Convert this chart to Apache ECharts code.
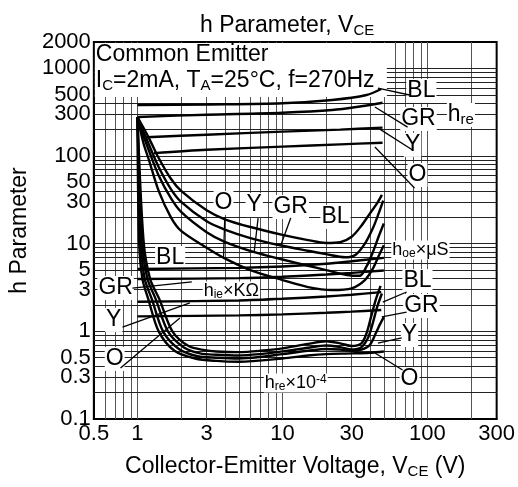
<!DOCTYPE html>
<html><head><meta charset="utf-8">
<script src="https://cdn.jsdelivr.net/npm/echarts@6/dist/echarts.min.js"></script>
<style>html,body{margin:0;padding:0;background:#fff}#c{width:518px;height:487px}</style>
</head><body><div id="c"></div>
<script>
const FONT = '"Liberation Sans", Arial, Helvetica, sans-serif';

// ---- axis tick labels & grid lines ----
const xTickValues = [0.5, 1, 3, 10, 30, 100, 300];
const yTickValues = [0.1, 0.3, 0.5, 1, 3, 5, 10, 30, 50, 100, 300, 500, 1000, 2000];
const xGridValues = [0.6,0.7,0.8,0.9,1,2,3,4,5,6,7,8,9,10,20,30,40,50,60,70,80,90,100,200];
const yGridValues = [0.2,0.3,0.4,0.5,0.6,0.7,0.8,0.9,1,2,3,4,5,6,7,8,9,10,20,30,40,50,60,70,80,90,100,200,300,400,500,600,700,800,900,1000];

// ---- h_fe (V_CE, value) ----
const hfeBL = [[1,382],[3,388],[10,400],[22,436],[38,497],[48,582]];
const hfeGR = [[1,279],[3,296],[10,312],[22,335],[35,370],[49,406]];
const hfeY  = [[1.15,164],[3,175],[10,190],[25,200],[49,211]];
const hfeO  = [[1.3,108],[3,118],[10,128],[25,136],[49,142]];

// ---- h_oe (uS) ----
const hoeBL = [[1,279],[1.1,210],[1.2,160],[1.4,95],[1.7,55],[2,40],[3,24],[4,19],[6,15.5],[10,12.6],[15,11],[20,10.2],[25,10.4],[30,12],[35,16],[40,22],[45,29],[48.5,36]];
const hoeGR = [[1,279],[1.1,190],[1.2,135],[1.4,75],[1.7,42],[2,30],[3,18],[4,14.5],[6,11.6],[9.6,9.6],[15,8.3],[20,7.6],[27,7.0],[32,7.5],[37,10],[42,15],[46,22],[49.5,31]];
const hoeY  = [[1,279],[1.1,170],[1.2,115],[1.4,60],[1.7,33],[2,23],[3,13.5],[4,10.5],[6.4,8.0],[10,6.6],[15,5.6],[20,5.0],[28,4.4],[34,4.3],[38,5.5],[42,8],[46,12],[50,17]];
const hoeO  = [[1,279],[1.1,140],[1.2,90],[1.4,40],[1.7,20],[2,14],[3,9],[4,6.8],[6,5.0],[10,3.85],[15,3.2],[22,2.96],[30,3.1],[37,3.85],[42,5.2],[46,7.2],[50,9.6]];

// ---- h_ie (kOhm) ----
const hieBL = [[1,5.15],[5,5.3],[10,5.5],[20,5.9],[30,6.3],[50,6.9]];
const hieGR = [[1,3.95],[5,4.05],[10,4.2],[20,4.45],[30,4.65],[50,4.95]];
const hieY  = [[1,2.18],[5,2.25],[10,2.35],[20,2.5],[30,2.62],[48,2.8]];
const hieO  = [[1,1.48],[5,1.52],[10,1.56],[20,1.63],[30,1.68],[48,1.75]];

// ---- h_re (x1e-4) ----
const hreBL = [[1,279],[1.1,11],[1.22,4],[1.42,2.3],[1.74,1.0],[2.25,0.68],[2.9,0.61],[3.5,0.59],[5,0.58],[7,0.6],[10,0.64],[15,0.72],[20,0.77],[25,0.73],[30,0.68],[35,0.73],[38,0.95],[41,1.5],[44,2.3],[47.5,3.3]];
const hreGR = [[1,279],[1.075,11],[1.17,4],[1.34,2.3],[1.62,1.0],[2.08,0.66],[2.7,0.56],[3.5,0.54],[5,0.53],[7,0.55],[10,0.59],[15,0.65],[20,0.69],[25,0.66],[30,0.62],[35,0.66],[39,0.85],[42,1.25],[45,1.9],[48.5,2.7]];
const hreY  = [[1,279],[1.05,11],[1.12,4],[1.26,2.3],[1.5,1.0],[1.93,0.63],[2.6,0.52],[3.5,0.5],[5,0.49],[7,0.51],[10,0.55],[15,0.6],[20,0.63],[25,0.62],[30,0.6],[35,0.62],[40,0.7],[44,0.95],[47,1.2],[50,1.45]];
const hreO  = [[1,279],[1.025,11],[1.08,4],[1.19,2.3],[1.4,1.0],[1.8,0.6],[2.5,0.49],[3.5,0.46],[5,0.45],[10,0.49],[15,0.53],[20,0.55],[30,0.56],[40,0.57],[50,0.59]];

// ---- annotation labels (text, x, y in data units) ----
const labelTexts = [
  '{m|BL}','{m|GR}','{m|Y}','{m|O}','{m|h}{s|re}',
  '{m|O}','{m|Y}','{m|GR}','{m|BL}','{a|h}{b|oe}{a|×μS}',
  '{m|BL}','{m|GR}','{m|Y}','{m|O}','{a|h}{b|ie}{a|×KΩ}',
  '{m|BL}','{m|GR}','{m|Y}','{m|O}','{a|h}{b|re}{a|×10}{p|-4}'
];
const labelAnchors = [
  [90.8,552],[86.7,265],[78.9,134],[85.3,60.8],[170,294],
  [3.92,29.1],[6.38,27.6],[11.4,26.2],[23.2,20.2],[89.4,8.47],
  [1.68,6.87],[0.707,3.12],[0.685,1.35],[0.696,0.484],[4.44,2.89],
  [85.3,3.75],[90.8,1.95],[75.2,0.909],[75.2,0.286],[12.35,0.257]
];
// leader lines from labels to curves
const leaderLines = [
  [[45.5,597],[75.2,497]], [[43.4,363],[72.9,214]], [[46.9,203],[78.9,117]], [[43.4,127],[81.4,43.2]],
  [[4.0,20.2],[3.92,6.87]], [[6.79,19.6],[6.38,8.04]], [[11.4,19.6],[9.75,9.66]],
  [[0.923,3.12],[2.37,3.66]], [[0.789,1.12],[2.30,2.11]], [[0.764,0.382],[1.96,1.42]],
  [[49.2,2.16],[71.8,2.81]], [[48.4,1.46],[71.8,1.66]], [[45.5,0.736],[66.4,0.84]], [[43.4,0.566],[67.4,0.362]]
];

const chart = echarts.init(document.getElementById('c'));

function curve(data) {
  return { type:'line', data, smooth:0.3, showSymbol:false, symbol:'none', silent:true,
    lineStyle:{ color:'#000', width:2.4 }, z:5 };
}
const curves = [hfeBL,hfeGR,hfeY,hfeO, hoeBL,hoeGR,hoeY,hoeO, hieBL,hieGR,hieY,hieO, hreBL,hreGR,hreY,hreO].map(curve);

const base = { fontFamily:FONT, color:'#000', fontWeight:'normal' };
const richMain = {
  m:{ ...base, fontSize:23, lineHeight:24 },
  s:{ ...base, fontSize:15, lineHeight:12, verticalAlign:'bottom' },
  a:{ ...base, fontSize:18, lineHeight:19 },
  b:{ ...base, fontSize:12, lineHeight:9, verticalAlign:'bottom' },
  p:{ ...base, fontSize:12, lineHeight:9, verticalAlign:'top' }
};

const option = {
  animation:false,
  backgroundColor:'#fff',
  title:{
    text:'{m|h Parameter, V}{s|CE}', left:195, top:9,
    textStyle:{ fontWeight:'normal', rich:richMain }
  },
  grid:{ left:91, right:20, top:42, bottom:68, show:true, borderColor:'#000', borderWidth:2, backgroundColor:'transparent' },
  xAxis:{
    type:'log', logBase:10, min:0.5, max:300,
    name:'{m|Collector-Emitter Voltage, V}{s|CE}{m| (V)}', nameLocation:'middle', nameGap:36,
    nameTextStyle:{ rich:richMain },
    axisLine:{ show:true, lineStyle:{ color:'#000', width:2 } },
    axisTick:{ show:false }, splitLine:{ show:false }, minorSplitLine:{ show:false },
    axisLabel:{ customValues:xTickValues, formatter:v=>String(+(+v).toPrecision(6)), fontSize:22, fontFamily:FONT, color:'#000', margin:4 }
  },
  yAxis:{
    type:'log', logBase:10, min:0.1, max:2000,
    name:'{m|h Parameter}', nameLocation:'middle', nameGap:58,
    nameTextStyle:{ rich:richMain },
    axisLine:{ show:true, lineStyle:{ color:'#000', width:2 } },
    axisTick:{ show:false }, splitLine:{ show:false }, minorSplitLine:{ show:false },
    axisLabel:{ customValues:yTickValues, formatter:v=>String(+(+v).toPrecision(6)), fontSize:22, fontFamily:FONT, color:'#000', margin:3, lineHeight:18 }
  },
  series:[
    { type:'line', data:[], silent:true, z:1,
      markLine:{ z:1, silent:true, symbol:'none', animation:false, label:{show:false},
        lineStyle:{ color:'#555', width:1, type:'solid' },
        data: xGridValues.map(v=>({ xAxis:v })) } },
    { type:'line', data:[], silent:true, z:1,
      markLine:{ z:1, silent:true, symbol:'none', animation:false, label:{show:false},
        lineStyle:{ color:'#222', width:1, type:'solid' },
        data: yGridValues.map(v=>({ yAxis:v })) } },
    ...curves,
    { type:'line', data:[], silent:true, z:6,
      markLine:{ z:6, silent:true, symbol:'none', animation:false, label:{show:false},
        lineStyle:{ color:'#000', width:1.3, type:'solid' },
        data: leaderLines.map(([a,b])=>[{ coord:a },{ coord:b }]) } }
  ]
};
chart.setOption(option);

// place annotation texts through the chart's own coordinate conversion
const gridRect = chart.getModel().getComponent('grid').coordinateSystem.getRect();
const graphics = [
  { type:'rect', shape:{ x:gridRect.x+1, y:gridRect.y+1, width:292, height:54 }, style:{ fill:'#fff' }, z:3, silent:true },
  { type:'text', x:gridRect.x+2, y:gridRect.y+13, z:4, silent:true,
    style:{ text:'{m|Common Emitter}', rich:richMain, align:'left', verticalAlign:'middle' } },
  { type:'text', x:gridRect.x+2, y:gridRect.y+39, z:4, silent:true,
    style:{ text:'{m|I}{s|C}{m|=2mA, T}{s|A}{m|=25°C, f=270Hz}', rich:richMain, align:'left', verticalAlign:'middle' } }
];
labelTexts.forEach((t,i)=>{
  const p = chart.convertToPixel({ gridIndex:0 }, labelAnchors[i]);
  graphics.push({ type:'text', x:p[0], y:p[1], z:4, silent:true,
    style:{ text:t, rich:richMain, align:'center', verticalAlign:'middle', backgroundColor:'#fff', padding:[0,1] } });
});
chart.setOption({ graphic:{ elements:graphics } });
</script>
</body></html>
